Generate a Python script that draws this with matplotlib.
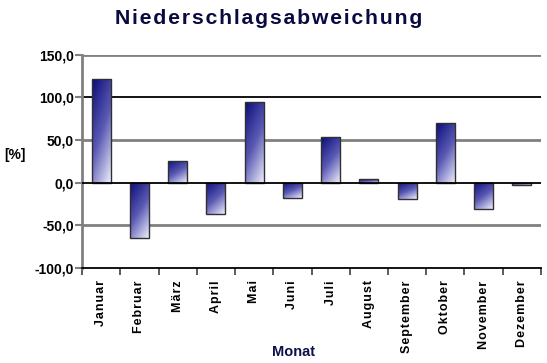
import numpy as np
import matplotlib.pyplot as plt
from matplotlib.colors import LinearSegmentedColormap
from matplotlib.ticker import FuncFormatter

plt.rcParams['font.family'] = ['Liberation Sans', 'DejaVu Sans']

monate = ["Januar", "Februar", "März", "April", "Mai", "Juni", "Juli",
          "August", "September", "Oktober", "November", "Dezember"]
abweichung = [122, -65.5, 26, -36.5, 95, -18, 53, 4.5, -19, 70, -31, -2.5]
y_ticks = [-100, -50, 0, 50, 100, 150]


def gesperrt(s, sep='\u200a'):
    # letter spacing via hair spaces
    return sep.join(s)


navy = '#0c0c7a'
cmap = LinearSegmentedColormap.from_list('blau', [navy, '#5a5ab4', '#f4f4ff'])

fig = plt.figure(figsize=(5.47, 3.63), dpi=100)
ax = fig.add_axes([0.150, 0.262, 0.839, 0.587])

x = np.arange(len(monate))
bars = ax.bar(x, abweichung, width=0.5, color='none', edgecolor='#303030',
              linewidth=1.0, zorder=3)

# diagonal gradient inside each bar (dark top-left -> light bottom-right)
gx, gy = np.meshgrid(np.linspace(0, 1, 60), np.linspace(0, 1, 120))
grad = 0.35 * gx + 0.65 * gy
for b in bars:
    x0, w = b.get_x(), b.get_width()
    y0, h = b.get_y(), b.get_height()
    top, bottom = max(y0, y0 + h), min(y0, y0 + h)
    im = ax.imshow(grad, cmap=cmap, extent=[x0, x0 + w, bottom, top],
                   origin='upper', aspect='auto', zorder=2, vmin=0, vmax=1)
    im.set_clip_path(b)

# gridlines: alternating grey and black
for v in [150, 50, -50]:
    ax.axhline(v, color='#808080', linewidth=2, zorder=1)
for v in [100, 0]:
    ax.axhline(v, color='black', linewidth=1.3, zorder=1 if v else 4)

ax.set_xlim(-0.5, len(monate) - 0.5)
ax.set_ylim(-100, 150)
ax.set_yticks(y_ticks)
ax.yaxis.set_major_formatter(FuncFormatter(lambda v, p: f"{v:.1f}".replace('.', ',')))
for lab in ax.get_yticklabels():
    lab.set_fontweight('bold')
    lab.set_fontsize(10)
ax.tick_params(axis='y', length=5, width=1.5, color='#808080', pad=1)

ax.set_xticks(x)
ax.set_xticklabels([gesperrt(m) for m in monate], rotation=90, fontsize=9,
                   fontweight='bold', va='top')
ax.set_xticks(np.arange(-0.5, len(monate)), minor=True)
ax.tick_params(axis='x', which='major', length=0, pad=9)
ax.tick_params(axis='x', which='minor', length=5, width=1.2, color='#404040')

for s in ['top', 'right']:
    ax.spines[s].set_visible(False)
ax.spines['left'].set_color('#808080')
ax.spines['left'].set_linewidth(2)
ax.spines['bottom'].set_color('black')
ax.spines['bottom'].set_linewidth(1.3)

fig.text(0.491, 0.95, gesperrt("Niederschlagsabweichung"), ha='center', va='center',
         fontsize=15.3, fontweight='bold', color='#0a0a40')
fig.text(0.027, 0.573, "[%]", ha='center', va='center', fontsize=10, fontweight='bold')
fig.text(0.537, 0.03, "Monat", ha='center', va='center', fontsize=10.5,
         fontweight='bold', color='#10104a')

fig.savefig('out.png', dpi=100)
